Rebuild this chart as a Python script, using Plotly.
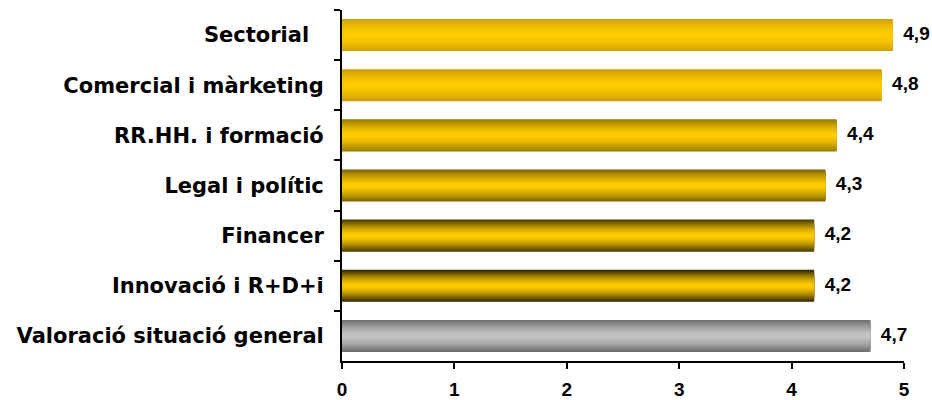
import plotly.graph_objects as go

categories = ["Sectorial\u00a0\u00a0", "Comercial i màrketing", "RR.HH. i formació",
              "Legal i polític", "Financer", "Innovació i R+D+i", "Valoració situació general"]
values = [4.9, 4.8, 4.4, 4.3, 4.2, 4.2, 4.7]
edge_colors = [(205, 162, 0), (200, 156, 0), (150, 120, 0), (120, 95, 0),
               (70, 55, 0), (42, 32, 0), (105, 105, 105)]
center_colors = [(255, 204, 0)] * 6 + [(196, 196, 196)]
x_ticks = [0, 1, 2, 3, 4, 5]

fig = go.Figure()

BAR_W = 0.64
N = 22
for k in range(N):
    frac = 1 - k / N
    t = 1 - (k + 0.5) / N
    w = t ** 1.5
    cols = []
    for e, c in zip(edge_colors, center_colors):
        rgb = [round(c[i] + (e[i] - c[i]) * w) for i in range(3)]
        cols.append(f"rgb({rgb[0]},{rgb[1]},{rgb[2]})")
    fig.add_trace(go.Bar(
        y=categories, x=values, orientation="h",
        width=BAR_W * frac,
        marker=dict(color=cols, line=dict(width=0)),
        hoverinfo="skip", showlegend=False,
    ))

fig.add_trace(go.Scatter(
    y=categories, x=values, mode="text",
    texttemplate="\u00a0\u00a0%{x:.1f}", textposition="middle right",
    textfont=dict(family="Liberation Sans, Arial", size=19, color="black", weight="bold"),
    cliponaxis=False, hoverinfo="skip", showlegend=False,
))

fig.update_layout(
    width=932, height=400,
    barmode="overlay",
    separators=",.",
    plot_bgcolor="white", paper_bgcolor="white",
    margin=dict(l=342, r=28, t=10, b=39, autoexpand=False),
    xaxis=dict(
        range=[0, 5], tickvals=x_ticks, showgrid=False, zeroline=False,
        showline=True, linecolor="black", linewidth=2,
        ticks="outside", ticklen=6, tickwidth=2, tickcolor="black",
        ticklabelstandoff=4, automargin=False,
        tickfont=dict(family="Liberation Sans, Arial", size=19, color="black", weight="bold"),
    ),
    yaxis=dict(
        autorange="reversed", showgrid=False, zeroline=False,
        showline=True, linecolor="black", linewidth=2,
        ticks="outside", ticklen=6, tickwidth=2, tickcolor="black",
        tickson="boundaries", ticklabelstandoff=12, automargin=False,
        tickfont=dict(family="Verdana, DejaVu Sans", size=21, color="black", weight="bold"),
    ),
)

fig.write_html("out.html", config={"displayModeBar": False},
               post_script="document.body.style.margin='0';document.body.style.overflow='hidden';")
